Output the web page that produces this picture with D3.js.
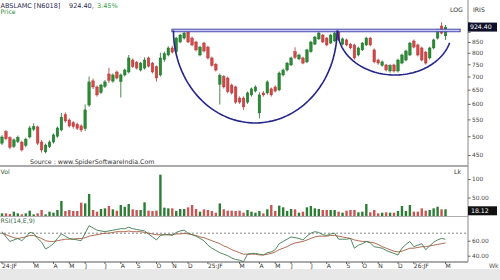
<!DOCTYPE html>
<html><head><meta charset="utf-8">
<script src="https://cdn.jsdelivr.net/npm/d3@7"></script>
<style>html,body{margin:0;padding:0;background:#fff;overflow:hidden}</style>
</head><body><svg id="c" width="500" height="280"></svg>
<script>
// ---------- DATA ----------
const weekStart = "2024-01-01";
const opens = [481,513,496,472,485,484,475,498,520,527,
484,458,472,484,500,518,565,548,540,535,
530,522,596,683,660,640,662,710,682,718,
680,706,718,768,758,726,734,777,755,740,
706,770,790,822,805,850,869,899,869,850,
790,845,826,777,750,670,700,694,667,660,
620,620,606,631,645,570,638,638,653,660,
649,706,726,747,805,773,777,760,805,840,
865,884,869,845,855,900,840,860,840,836,
790,813,836,869,813,768,745,747,722,747,
722,755,768,790,855,836,822,803,777,822,
869,930,880];
const highs = [503,518,500,494,502,488,496,530,538,531,
490,480,489,508,528,570,572,553,545,540,
535,598,700,692,666,672,686,735,712,724,
712,732,790,775,764,760,780,783,760,745,
800,805,830,832,875,890,905,909,876,856,
832,851,832,783,756,712,706,700,673,665,
626,626,643,658,666,640,645,685,658,666,
720,732,760,783,825,796,783,818,856,880,
905,890,875,890,905,912,872,866,846,842,
828,850,875,875,820,774,766,752,750,752,
774,796,814,850,862,842,828,808,828,866,
916,950,935];
const lows = [476,489,465,468,481,459,470,494,515,476,
456,454,468,480,496,514,540,525,522,518,
512,515,590,652,625,634,656,675,676,688,
622,700,712,735,728,720,728,737,712,680,
700,760,784,797,800,844,862,845,830,806,
784,802,770,740,720,598,654,637,632,600,
600,580,600,625,640,553,625,632,625,640,
644,700,720,742,772,767,750,755,800,835,
860,845,830,840,850,855,834,830,816,770,
784,808,830,830,754,748,740,720,715,716,
716,750,762,785,820,784,762,748,770,816,
862,888,860];
const closes = [498,493,470,490,497,463,492,524,528,481,
463,476,484,504,524,557,545,530,528,523,
518,580,679,660,631,667,679,685,706,694,
706,726,777,740,734,755,768,742,718,694,
777,796,822,803,869,884,894,850,836,813,
826,808,777,745,726,704,660,643,638,606,
606,590,638,653,660,631,631,679,631,645,
714,726,755,777,780,790,755,813,850,874,
894,850,836,884,894,860,865,836,822,777,
822,845,869,836,760,755,760,726,745,722,
768,790,808,845,826,790,768,755,822,860,
909,893.6,924.4];
const volumes = [7.2,7.2,5.4,11.7,7.2,4.5,7.2,14.4,4.5,7.2,
16.2,4.5,11.7,9,16.2,40.5,13.5,16.2,13.5,13.5,
36,34,59.5,16.2,11.7,19,20.7,27,18,14.4,
29.7,25,32.4,18,16.2,16.2,37,14.4,13.5,14.4,
111.7,22.5,20.7,20.7,13.5,19,19,23.4,29.7,19,
11.7,18,16.2,13.5,9,34,18,14.4,14.4,13.5,
14.4,9,16.2,11.7,9,13.5,7.2,18,29.7,13.5,
28,23.4,13.5,19,18,9,11.7,23.4,27,20.7,
19,16.2,16.2,16.2,16.2,11.7,9,14.4,16.2,16.2,
10,11.7,32.4,10,16.2,7.2,9,10,9,9,
13.5,27,13.5,29.7,11.7,11.7,20.7,14.4,16.2,20.7,
25,18,18.12];
const rsi = [72,65,59,61,63,60,65,71,70,63,
58,49,52,56,63,69,66,63,62,61,
60,70,80,77,74,73,72,73,74,75,
76,76,78,76,75,74,73,69,65,61,
67,68,68,67,71,73,74,70,68,66,
63,60,54,50,47,44,42,40,37,35,
34,32,42,43,43,42,41,44,45,48,
56,59,62,65,64,63,61,66,70,72,
71,68,67,69,70,62,62,62,63,50,
54,56,59,57,52,51,50,47,45,43,
41,50,55,59,52,54,56,48,53,58,
61,63,62];
const rsiSignal = [70,68,66,64,63,64,65,67,67,65,
63,60,59,59,60,61,62,62,62,63,
63,64,66,67,68,69,70,70,71,72,
72,72,73,72,72,72,71,70,69,68,
68,68,68,68,69,69,70,69,68,67,
65,64,62,60,58,56,53,51,48,46,
44,42,42,42,42,41,41,42,43,45,
48,50,52,55,57,58,59,61,63,65,
66,66,66,67,67,66,65,64,63,61,
60,59,59,58,57,55,52,50,48,46,
45,46,48,50,50,51,52,52,53,54,
55,56,57];
const monthDates = ["2024-01-01","2024-03-01","2024-04-01","2024-05-01","2024-06-01","2024-07-01","2024-08-01","2024-09-01","2024-10-01","2024-11-01","2024-12-01",
"2025-01-01","2025-03-01","2025-04-01","2025-05-01","2025-06-01","2025-07-01","2025-08-01","2025-09-01","2025-10-01","2025-11-01","2025-12-01",
"2026-01-01","2026-03-01"];
const monthLabels = ["24:JF","M","A","M","J","J","A","S","O","N","D",
"25:JF","M","A","M","J","J","A","S","O","N","D","26:JF","M"];
const priceTicks = [450,500,550,600,650,700,750,800,850,900,950];
const volTicks = [50,100];
const volTickLabels = ["50.00","100"];
const rsiTicks = [40,60];
const rsiTickLabels = ["40.00","60.00"];
const rsiLevel = 70;
const lastPrice = "924.40";
const lastVolume = "18.12";
// annotations (week index / price)
const resistance = {fromWeek: 42.9, toWeek: 115.7, price: 907};
const cups = [
  {fromWeek: 43.3, toWeek: 84.6, rimPrice: 907, bottomPrice: 539, sweep: Math.PI},
  {fromWeek: 84.8, toWeek: 113.6, rimPrice: 907, bottomPrice: 706, sweep: 2.86}
];

// ---------- LAYOUT ----------
const svg = d3.select("#c");
const FONT = "DejaVu Sans, Verdana, sans-serif";
const AX = 468;
const P = {top: 0, bot: 166}, V = {top: 166, bot: 216}, R = {top: 216, bot: 262};
const n = closes.length;
const x = d3.scaleLinear().domain([0, n - 1]).range([2, 2 + (n - 1) * 3.96]);
const yP = d3.scaleLog().domain([450, 850]).range([155, 42]);
const yV = d3.scaleLinear().domain([0, 100]).range([V.bot, 179]);
const yR = d3.scaleLinear().domain([40, 60]).range([255.7, 240.7]);
const UP = "#2b8a36", UPS = "#1d6b27", DN = "#d04848", DNS = "#b23232";

const defs = svg.append("defs");
[["cp", P], ["cv", V], ["cr", R]].forEach(([id, p]) => {
  defs.append("clipPath").attr("id", id).append("rect")
    .attr("x", 0).attr("y", p.top).attr("width", AX).attr("height", p.bot - p.top);
});

// bottom grey band
svg.append("rect").attr("x", 0).attr("y", 269).attr("width", 500).attr("height", 11).attr("fill", "#e8e8e8");

// ---------- PRICE ----------
const gp = svg.append("g").attr("clip-path", "url(#cp)");
const idx = d3.range(n);
gp.selectAll("line.wick").data(idx).join("line")
  .attr("x1", i => x(i)).attr("x2", i => x(i))
  .attr("y1", i => yP(highs[i])).attr("y2", i => yP(lows[i]))
  .attr("stroke", i => closes[i] >= opens[i] ? UPS : DNS).attr("stroke-width", 0.8);
gp.selectAll("rect.body").data(idx).join("rect")
  .attr("x", i => x(i) - 1.3).attr("width", 2.6)
  .attr("y", i => yP(Math.max(opens[i], closes[i])))
  .attr("height", i => Math.max(1, yP(Math.min(opens[i], closes[i])) - yP(Math.max(opens[i], closes[i]))))
  .attr("fill", i => closes[i] >= opens[i] ? UP : DN)
  .attr("stroke", i => closes[i] >= opens[i] ? UPS : DNS).attr("stroke-width", 0.4);

// resistance band
const ry = yP(resistance.price);
gp.append("rect").attr("x", x(resistance.fromWeek)).attr("y", ry - 1.3)
  .attr("width", x(resistance.toWeek) - x(resistance.fromWeek)).attr("height", 2.6)
  .attr("fill", "#c9c9f2").attr("stroke", "#3a3aa6").attr("stroke-width", 0.9);

// cup arcs
cups.forEach(c => {
  const x0 = x(c.fromWeek), x1 = x(c.toWeek), cx = (x0 + x1) / 2, rx = (x1 - x0) / 2;
  const yt = yP(c.rimPrice), yb = yP(c.bottomPrice);
  const pts = d3.range(0, 81).map(k => {
    const t = c.sweep * k / 80;
    return [cx - rx * Math.cos(t), yt + (yb - yt) * Math.sin(t)];
  });
  gp.append("path").attr("d", d3.line()(pts)).attr("fill", "none")
    .attr("stroke", "#25258a").attr("stroke-width", 1.6);
});

// ---------- VOLUME ----------
const gv = svg.append("g").attr("clip-path", "url(#cv)");
gv.selectAll("rect").data(idx).join("rect")
  .attr("x", i => x(i) - 1.2).attr("width", 2.4)
  .attr("y", i => yV(volumes[i])).attr("height", i => yV(0) - yV(volumes[i]))
  .attr("fill", i => closes[i] >= opens[i] ? "#2e7d36" : "#c95555");

// ---------- RSI ----------
const gr = svg.append("g").attr("clip-path", "url(#cr)");
gr.append("line").attr("x1", 0).attr("x2", AX).attr("y1", yR(rsiLevel)).attr("y2", yR(rsiLevel))
  .attr("stroke", "#555").attr("stroke-width", 0.7).attr("stroke-dasharray", "2,2");
gr.append("path").datum(rsiSignal).attr("fill", "none").attr("stroke", "#a65a3c").attr("stroke-width", 0.9)
  .attr("d", d3.line().x((d, i) => x(i)).y(d => yR(d)));
gr.append("path").datum(rsi).attr("fill", "none").attr("stroke", "#3e7a4e").attr("stroke-width", 0.9)
  .attr("d", d3.line().x((d, i) => x(i)).y(d => yR(d)));

// ---------- FRAME LINES ----------
svg.append("line").attr("x1", 0).attr("x2", AX).attr("y1", P.bot).attr("y2", P.bot).attr("stroke", "#444").attr("stroke-width", 0.9);
svg.append("line").attr("x1", 0).attr("x2", AX).attr("y1", V.bot + 0.5).attr("y2", V.bot + 0.5).attr("stroke", "#999").attr("stroke-width", 0.8);
svg.append("line").attr("x1", 0).attr("x2", AX).attr("y1", R.bot).attr("y2", R.bot).attr("stroke", "#444").attr("stroke-width", 0.9);
svg.append("line").attr("x1", AX).attr("x2", AX).attr("y1", 0).attr("y2", R.bot).attr("stroke", "#888").attr("stroke-width", 1);

// ---------- AXES ----------
function styleAxis(g) {
  g.select(".domain").remove();
  g.selectAll("line").attr("stroke", "#666");
  g.selectAll("text").attr("font-family", FONT).attr("font-size", "5.9px").attr("fill", "#444");
}
svg.append("g").attr("transform", `translate(${AX},0)`)
  .call(d3.axisRight(yP).tickValues(priceTicks)
    .tickFormat(d => Math.abs(yP(d) - yP(+lastPrice)) < 7 ? "" : d3.format("d")(d))
    .tickSize(2.5).tickPadding(1.5))
  .call(styleAxis);
svg.append("g").attr("transform", `translate(${AX},0)`)
  .call(d3.axisRight(yV).tickValues(volTicks).tickFormat((d, i) => volTickLabels[i]).tickSize(2.5).tickPadding(1.5))
  .call(styleAxis);
svg.append("g").attr("transform", `translate(${AX},0)`)
  .call(d3.axisRight(yR).tickValues(rsiTicks).tickFormat((d, i) => rsiTickLabels[i]).tickSize(2.5).tickPadding(1.5))
  .call(styleAxis);

// month axis
const parse = d3.utcParse("%Y-%m-%d");
const start = parse(weekStart);
const monthIdx = monthDates.map(d => d3.utcMonday.count(start, d3.utcMonday.floor(parse(d))));
const gx = svg.append("g");
gx.selectAll("line").data(monthIdx).join("line")
  .attr("x1", d => x(d)).attr("x2", d => x(d)).attr("y1", R.bot).attr("y2", R.bot + 2)
  .attr("stroke", "#444").attr("stroke-width", 0.8);
gx.selectAll("text").data(monthIdx).join("text")
  .attr("x", d => Math.max(0.5, x(d))).attr("y", 267.5).attr("font-family", FONT).attr("font-size", "6px")
  .attr("fill", "#333").text((d, i) => monthLabels[i]);

// value boxes
const bp = yP(+lastPrice);
svg.append("rect").attr("x", AX).attr("y", bp - 4.5).attr("width", 29).attr("height", 9).attr("fill", "#10102a");
svg.append("text").attr("x", AX + 2).attr("y", bp + 2.3).attr("font-family", FONT).attr("font-size", "6.2px").attr("fill", "#fff").text(lastPrice);
const bv = yV(+lastVolume);
svg.append("rect").attr("x", AX).attr("y", bv - 3).attr("width", 29).attr("height", 9).attr("fill", "#111");
svg.append("text").attr("x", AX + 3).attr("y", bv + 3.6).attr("font-family", FONT).attr("font-size", "6.2px").attr("fill", "#fff").text(lastVolume);

// ---------- TEXTS ----------
const T = (xx, yy, s, fill, size) => svg.append("text").attr("x", xx).attr("y", yy)
  .attr("font-family", FONT).attr("font-size", (size || 6.5) + "px").attr("fill", fill).text(s);
T(0.5, 7.5, "ABSLAMC [N6018]", "#2a2a50", 6.5);
T(69, 7.5, lastPrice + ",", "#2a2a50", 6.5);
T(97, 7.5, "3.45%", "#2f9a3a", 6.5);
T(0.5, 14, "Price", "#2f8a3a", 6.2);
T(450, 12, "LOG", "#333", 6.2);
T(473, 12, "IRIS", "#333", 6.2);
T(30, 163.5, "Source : www.SpiderSoftwareIndia.Com", "#333", 6.3);
T(0.5, 173.5, "Vol", "#3c5c3c", 6.2);
T(454, 173.5, "Lk", "#333", 6.2);
T(0.5, 223, "RSI(14,E,9)", "#3c6c4c", 6.2);
T(489, 268, "Wk", "#555", 6.2);
</script>
</body></html>
